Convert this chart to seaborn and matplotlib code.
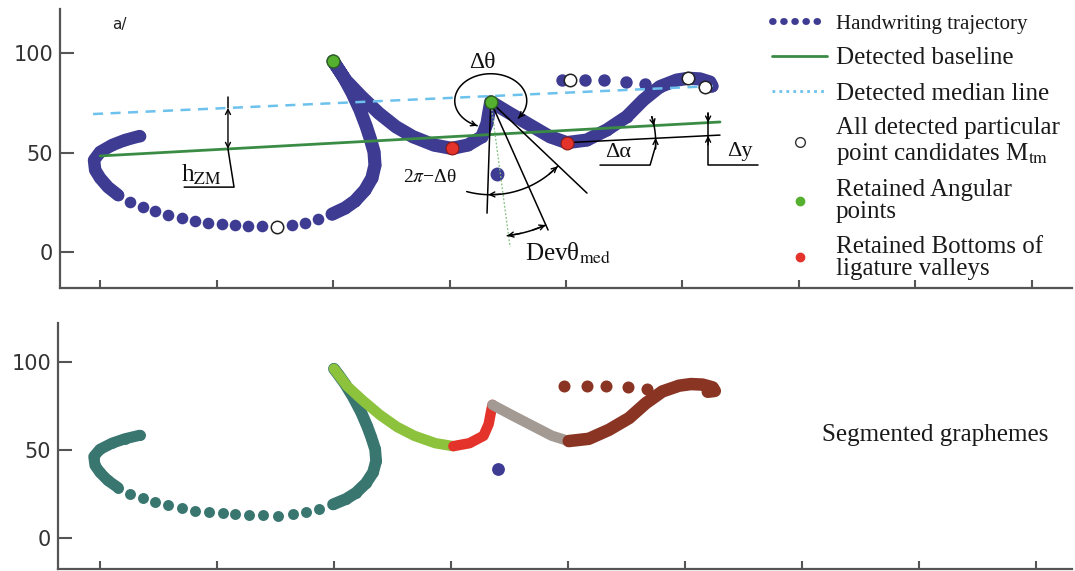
import numpy as np
import pandas as pd
import matplotlib
matplotlib.use("Agg")
import matplotlib.pyplot as plt
import seaborn as sns
from matplotlib.lines import Line2D

# ---------------- data ----------------
traj_x = [17.0, 10.7, 5.2, 0.0, -2.6, -2.1, 0.0, 3.4, 7.7, 12.9, 18.5, 23.6, 29.2, 35.2, 40.8,
          46.4, 52.4, 57.9, 63.5, 69.5, 75.9, 82.4, 88.0, 93.6, 99.6, 105.2, 109.4, 113.7, 116.7,
          118.0, 117.6, 115.9, 114.2, 111.6, 108.2, 104.7, 101.7, 100.0,
          105.5, 112.3, 119.7, 127.0, 134.3, 143.3, 151.0, 157.9, 163.9, 166.1, 166.9, 167.7,
          175.9, 185.8, 193.1, 200.3, 208.9, 217.5, 226.1, 233.2, 240.3, 247.5, 252.5, 257.5,
          261.8, 262.7, 259.7]
traj_y = [58.4, 56.4, 53.9, 50.4, 46.3, 41.3, 37.3, 32.7, 28.7, 25.2, 22.7, 20.7, 18.6, 17.1, 15.6,
          14.6, 14.1, 13.6, 13.1, 13.1, 12.6, 13.6, 14.6, 16.6, 19.1, 22.2, 25.7, 31.2, 37.3,
          43.8, 50.4, 57.4, 63.5, 71.5, 80.1, 87.7, 93.2, 96.2,
          86.5, 78.2, 69.9, 63.1, 58.1, 53.9, 52.2, 53.9, 58.1, 64.8, 70.5, 75.7,
          69.9, 63.1, 58.1, 55.1, 56.4, 61.5, 68.2, 76.6, 83.3, 86.6, 87.5, 87.2,
          85.6, 83.6, 83.1]
dots_x = [198.3, 208.2, 216.3, 225.8, 233.9]
dots_y = [86.4, 86.6, 86.6, 85.6, 84.5]
diac_x = [170.2]
diac_y = [39.3]
cand_x = [75.9, 201.7, 252.5, 259.7]
cand_y = [12.6, 86.6, 87.7, 83.1]
ang_x = [100.0, 167.7]
ang_y = [96.2, 75.7]
bot_x = [151.0, 200.3]
bot_y = [52.2, 55.1]
base_x = [0.0, 266.1]
base_y = [48.4, 65.5]
med_x = [-3.0, 263.1]
med_y = [69.5, 83.6]
seg_bounds = [0, 37, 44, 49, 53, 64]      # top, valley 1, peak, valley 2, end
LOOP_DOTS = (8, 24)                        # part of the stroke drawn as separate dots
yticks = [0, 50, 100]
xticks = [0, 50, 100, 150, 200, 250, 300, 350, 400]

legend_labels = ["Handwriting trajectory", "Detected baseline", "Detected median line",
                 "All detected particular\npoint candidates M$_{\\mathrm{tm}}$",
                 "Retained Angular\npoints", "Retained Bottoms of\nligature valleys"]

# ---------------- style ----------------
NAVY = "#3e3b92"
TEAL = "#3a7670"
LGREEN = "#8cc23c"
RED = "#e4332a"
GRAY = "#a39a94"
BROWN = "#8a3424"
GREEN_LINE = "#3a8c45"
BLUE_LINE = "#6cc2ec"
GREEN_PT = "#55b030"
AX_COL = "#555555"
SERIF = ["Liberation Serif", "DejaVu Serif"]

sns.set_theme(style="white")
plt.rcParams["font.family"] = ["DejaVu Sans"]
plt.rcParams["mathtext.fontset"] = "stix"

W, H = 1075, 571
fig = plt.figure(figsize=(W / 100, H / 100), dpi=100)
ax1 = fig.add_axes([60 / W, 283 / H, 1012 / W, 279 / H])
ax2 = fig.add_axes([58 / W, 2 / H, 1014 / W, 246 / H])
ax1.set_xlim(-17.2, 417.2); ax1.set_ylim(-18.1, 122.4)
ax2.set_xlim(-17.9, 415.3); ax2.set_ylim(-17.6, 122.2)

for ax in (ax1, ax2):
    for side in ("top", "right"):
        ax.spines[side].set_visible(False)
    for side in ("left", "bottom"):
        ax.spines[side].set_color(AX_COL)
        ax.spines[side].set_linewidth(1.6)
    ax.set_xticks(xticks)
    ax.set_yticks(yticks)
    ax.tick_params(axis="y", direction="in", length=10, width=1.5, color=AX_COL,
                   labelsize=15, pad=5, labelcolor="#333333", left=True)
    ax.tick_params(axis="x", direction="in", length=6, width=1.5, color=AX_COL,
                   labelbottom=False, bottom=True)
    ax.grid(False)


def line(ax, xs, ys, **kw):
    sns.lineplot(x=list(xs), y=list(ys), sort=False, estimator=None, ax=ax, **kw)


def dots(ax, xs, ys, **kw):
    sns.scatterplot(x=list(xs), y=list(ys), ax=ax, legend=False, **kw)


# ---------------- top panel ----------------
a, b = LOOP_DOTS
line(ax1, traj_x[:a + 1], traj_y[:a + 1], color=NAVY, lw=9, solid_capstyle="round", zorder=2)
line(ax1, traj_x[b:], traj_y[b:], color=NAVY, lw=9.5, solid_capstyle="round", zorder=2)
dots(ax1, traj_x, traj_y, color=NAVY, s=70, linewidth=0, zorder=2)
dots(ax1, dots_x, dots_y, color=NAVY, s=80, linewidth=0, zorder=2)
dots(ax1, diac_x, diac_y, color=NAVY, s=100, linewidth=0, zorder=2)

line(ax1, base_x, base_y, color=GREEN_LINE, lw=2, zorder=4)
line(ax1, med_x, med_y, color=BLUE_LINE, lw=1.8, dashes=(4, 3), zorder=4)

dots(ax1, cand_x, cand_y, color="white", s=80, edgecolor="#222222", linewidth=1.1, zorder=6)
dots(ax1, ang_x, ang_y, color=GREEN_PT, s=85, edgecolor="#2c5f20", linewidth=1.0, zorder=6)
dots(ax1, bot_x, bot_y, color=RED, s=85, edgecolor="#8a1a14", linewidth=0.8, zorder=6)

# --- annotation geometry (derived from the data points) ---
pos = ax1.get_position()
sx = pos.width * W / (ax1.get_xlim()[1] - ax1.get_xlim()[0])
sy = pos.height * H / (ax1.get_ylim()[1] - ax1.get_ylim()[0])
K = dict(color="black", lw=1.1, zorder=5)
TXT = dict(family=SERIF, color="#111111", ha="center", va="center", zorder=7)


def arc_pt(c, rx, ry, t):
    t = np.radians(t)
    return (c[0] + rx * np.cos(t) / sx, c[1] + ry * np.sin(t) / sy)


def arc(c, rx, ry, t1, t2):
    t = np.linspace(t1, t2, 90)
    pts = [arc_pt(c, rx, ry, v) for v in t]
    ax1.plot([p[0] for p in pts], [p[1] for p in pts], **K)


def arrow(xy, xytext):
    ax1.annotate("", xy=xy, xytext=xytext, zorder=7,
                 arrowprops=dict(arrowstyle="->", color="black", lw=1.0,
                                 shrinkA=0, shrinkB=0, mutation_scale=9))


P = (ang_x[1], ang_y[1])
# delta theta
C = (P[0], P[1] + 0.5)
arc(C, 36, 27, -40, 248)
arrow(arc_pt(C, 36, 27, -40), arc_pt(C, 36, 27, -30))
arrow(arc_pt(C, 36, 27, 248), arc_pt(C, 36, 27, 238))
ax1.text(163.9, 95.7, "Δθ", fontsize=17, **TXT)

# rays from the angular point
ax1.plot([P[0], 166.1], [P[1], 19.6], **K)
ax1.plot([P[0], 209.0], [P[1], 29.7], **K)
ax1.plot([P[0], 192.3], [P[1], 11.1], **K)
ax1.plot([P[0], 176.0], [P[1], 2.5], color="#7fbf7f", lw=0.9, ls=(0, (1.5, 1.5)), zorder=5)

# 2pi - delta theta
arc(P, 93, 93, -105, -44)
arrow(arc_pt(P, 93, 93, -91.5), arc_pt(P, 93, 93, -84))
arrow(arc_pt(P, 93, 93, -44), arc_pt(P, 93, 93, -51))
ax1.text(141.6, 37.3, "2$\\pi$−Δθ", fontsize=14, **TXT)

# Dev theta med
arc(P, 135, 135, -83, -66)
arrow(arc_pt(P, 135, 135, -83), arc_pt(P, 135, 135, -77))
arrow(arc_pt(P, 135, 135, -66), arc_pt(P, 135, 135, -72))
ax1.text(200.9, -0.5, "Devθ$_{\\mathrm{med}}$", fontsize=18, **TXT)

# delta alpha
V = (bot_x[1], bot_y[1])
ax1.plot([V[0], 266.1], [V[1], 58.9], **K)
arc(V, 89, 89, -4, 17)
arrow(arc_pt(V, 89, 89, 3), arc_pt(V, 89, 89, -4))
arrow(arc_pt(V, 89, 89, 11), arc_pt(V, 89, 89, 17))
ax1.plot([214.6, 236.1, 238.2], [43.8, 43.8, 52.4], **K)
ax1.text(222.3, 49.9, "Δα", fontsize=16, **TXT)

# delta y
xdy = 261.0
yb = float(np.interp(xdy, base_x, base_y))
yk = V[1] + (58.9 - V[1]) * (xdy - V[0]) / (266.1 - V[0])
ax1.plot([xdy, xdy, 282.4], [70.0, 43.8, 43.8], **K)
arrow((xdy, yb), (xdy, 70.0))
arrow((xdy, yk), (xdy, 54.0))
ax1.text(274.7, 50.4, "Δy", fontsize=16, **TXT)

# h_ZM
xh = 54.9
ymed = float(np.interp(xh, med_x, med_y))
ybas = float(np.interp(xh, base_x, base_y))
ax1.plot([xh, xh], [78.1, ymed], **K)
ax1.annotate("", xy=(xh, ymed), xytext=(xh, ybas), zorder=7,
             arrowprops=dict(arrowstyle="<->", color="black", lw=1.0,
                             shrinkA=0, shrinkB=0, mutation_scale=9))
ax1.plot([xh, 57.5, 36.1], [ybas, 32.7, 32.7], **K)
ax1.text(43.3, 38.8, "h$_{\\mathrm{ZM}}$", fontsize=18, **TXT)

ax1.text(8.2, 114.5, "a/", fontsize=11, color="#222222", ha="center", va="center")

# legend
handles = [
    Line2D([], [], color=NAVY, lw=5, ls=(0, (0.1, 1.5)), dash_capstyle="round"),
    Line2D([], [], color=GREEN_LINE, lw=2),
    Line2D([], [], color=BLUE_LINE, lw=2, ls=(0, (1, 1.5))),
    Line2D([], [], ls="none", marker="o", ms=7, mfc="white", mec="#333333", mew=1),
    Line2D([], [], ls="none", marker="o", ms=6, mfc=GREEN_PT, mec=GREEN_PT),
    Line2D([], [], ls="none", marker="o", ms=6, mfc=RED, mec=RED),
]
leg = ax1.legend(handles, legend_labels, loc="upper left",
                 bbox_to_anchor=(772 / W, 1 - 12 / H), bbox_transform=fig.transFigure,
                 frameon=False, prop={"family": SERIF, "size": 18},
                 handlelength=2.2, handletextpad=0.35, labelspacing=0.5,
                 borderpad=0, borderaxespad=0)
for i, t in enumerate(leg.get_texts()):
    t.set_color("#1a1a1a")
    t.set_linespacing(1.08 if i == 3 else 1.0)
leg.get_texts()[0].set_fontsize(15)

# ---------------- bottom panel ----------------
seg_colors = [TEAL, LGREEN, RED, GRAY, BROWN]
for k, col in enumerate(seg_colors):
    i0, i1 = seg_bounds[k], seg_bounds[k + 1]
    if k == 0:
        line(ax2, traj_x[i0:a + 1], traj_y[i0:a + 1], color=col, lw=8, solid_capstyle="round")
        line(ax2, traj_x[b:i1 + 1], traj_y[b:i1 + 1], color=col, lw=8.5, solid_capstyle="round")
        dots(ax2, traj_x[i0:i1 + 1], traj_y[i0:i1 + 1], color=col, s=62, linewidth=0)
    else:
        line(ax2, traj_x[i0:i1 + 1], traj_y[i0:i1 + 1], color=col,
             lw=9 if col == BROWN else 7.5, solid_capstyle="round")
dots(ax2, dots_x, dots_y, color=BROWN, s=75, linewidth=0, marker="o")
dots(ax2, diac_x, diac_y, color=NAVY, s=85, linewidth=0)

fig.text(822 / W, 1 - 435 / H, "Segmented graphemes", family=SERIF, fontsize=18,
         color="#1a1a1a", ha="left", va="center")

fig.savefig("out.png", dpi=100)
